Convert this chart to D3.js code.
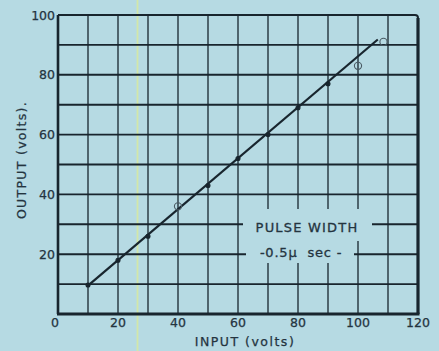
<!DOCTYPE html>
<html>
<head>
<meta charset="utf-8">
<script src="https://cdn.jsdelivr.net/npm/d3@7"></script>
<style>
  html, body { margin: 0; padding: 0; background: #b6dae3; }
  svg { display: block; }
</style>
</head>
<body>
<svg id="chart" width="439" height="351"></svg>
<script>
// Measured pulse amplifier response
const inputVolts  = [10, 20, 30, 40, 50, 60, 70, 80, 90, 100, 108.5];
const outputVolts = [9.7, 18, 26, 36, 43, 52, 60, 69, 77, 83, 91];
// Points off the fitted line are drawn as open circles
const openPoint   = [false, false, false, true, false, false, false, false, false, true, true];
// Fitted straight line
const fitInput  = [10, 106.6];
const fitOutput = [9.5, 91.8];
const xTicks = [0, 20, 40, 60, 80, 100, 120];
const yTicks = [20, 40, 60, 80, 100];
const gridStep = [10, 20, 30, 40, 50, 60, 70, 80, 90, 100, 110];
const yGrid = [10, 20, 30, 40, 50, 60, 70, 80, 90];

const bg = "#b6dae3";
const ink = "#18252e";
const textInk = "#24343f";

const svg = d3.select("#chart");
const x = d3.scaleLinear().domain([0, 120]).range([58, 418]);
const y = d3.scaleLinear().domain([0, 100]).range([314, 15]);

// faint printing stripe
svg.append("line")
  .attr("x1", 137.5).attr("x2", 137.5).attr("y1", 0).attr("y2", 351)
  .attr("stroke", "#d9eaa0").attr("stroke-width", 1.8).attr("opacity", 0.85);

// grid
const grid = svg.append("g");
grid.selectAll("line.v").data(gridStep).join("line")
  .attr("x1", d => x(d)).attr("x2", d => x(d))
  .attr("y1", y(100)).attr("y2", y(0))
  .attr("stroke", ink).attr("stroke-width", 1.3);
grid.selectAll("line.h").data(yGrid).join("line")
  .attr("x1", x(0)).attr("x2", x(120))
  .attr("y1", d => y(d)).attr("y2", d => y(d))
  .attr("stroke", ink).attr("stroke-width", 1.9);

// knockout behind the note
svg.append("rect").attr("x", 243).attr("y", 209).attr("width", 129).attr("height", 32).attr("fill", bg);
svg.append("rect").attr("x", 246).attr("y", 240).attr("width", 108).attr("height", 23).attr("fill", bg);

const noteStyle = sel => sel
  .attr("font-family", "DejaVu Sans, sans-serif").attr("font-size", 13)
  .attr("fill", textInk).attr("stroke", textInk).attr("stroke-width", 0.3);
svg.append("text").attr("x", 307).attr("y", 232)
  .attr("text-anchor", "middle").attr("letter-spacing", 1.2)
  .call(noteStyle)
  .text("PULSE WIDTH");
svg.append("text").attr("x", 301).attr("y", 257)
  .attr("text-anchor", "middle").attr("letter-spacing", 0.8)
  .attr("xml:space", "preserve")
  .call(noteStyle)
  .text("-0.5\u03bc  sec -");

// frame
const fr = svg.append("g").attr("fill", "none").attr("stroke", ink);
fr.append("path")
  .attr("d", `M${x(0)},${y(0)} L${x(0)},${y(100)}`).attr("stroke-width", 2.6);
fr.append("path")
  .attr("d", `M${x(0)},${y(100)} L${x(120) - 3},${y(100)} Q${x(120)},${y(100)} ${x(120)},${y(100) + 3}`)
  .attr("stroke-width", 2);
fr.append("path")
  .attr("d", `M${x(120)},${y(100) + 3} L${x(120)},${y(0)}`).attr("stroke-width", 3.2);
fr.append("path")
  .attr("d", `M${x(0) - 1},${y(0)} L${x(120) + 1.5},${y(0)}`).attr("stroke-width", 3.2);

// fitted line
svg.append("line")
  .attr("x1", x(fitInput[0])).attr("y1", y(fitOutput[0]))
  .attr("x2", x(fitInput[1])).attr("y2", y(fitOutput[1]))
  .attr("stroke", ink).attr("stroke-width", 2.2);

// measured points
const pts = inputVolts.map((v, i) => ({ x: v, y: outputVolts[i], open: openPoint[i] }));
svg.selectAll("circle.pt").data(pts).join("circle")
  .attr("cx", d => x(d.x)).attr("cy", d => y(d.y))
  .attr("r", d => d.open ? 3.6 : 2)
  .attr("fill", d => d.open ? "none" : ink)
  .attr("stroke", d => d.open ? "#4a5a63" : ink)
  .attr("stroke-width", 1.1);

// tick labels
const tickFont = "DejaVu Sans, sans-serif";
const tickStyle = sel => sel
  .attr("font-family", tickFont).attr("font-size", 12.5)
  .attr("fill", textInk).attr("stroke", textInk).attr("stroke-width", 0.25);
svg.selectAll("text.yt").data(yTicks).join("text")
  .attr("x", 55).attr("y", d => y(d) + 4.5)
  .attr("text-anchor", "end")
  .call(tickStyle)
  .text(d => d);
svg.selectAll("text.xt").data(xTicks).join("text")
  .attr("x", d => d === 0 ? 55 : x(d)).attr("y", 327)
  .attr("text-anchor", "middle")
  .call(tickStyle)
  .text(d => d);

// axis titles
svg.append("text").attr("x", 245).attr("y", 346)
  .attr("text-anchor", "middle").attr("letter-spacing", 1.5)
  .call(tickStyle).attr("font-size", 12.5)
  .text("INPUT (volts)");
svg.append("text")
  .attr("transform", "translate(26,160) rotate(-90)")
  .attr("text-anchor", "middle").attr("letter-spacing", 1.3)
  .call(tickStyle).attr("font-size", 12.5)
  .text("OUTPUT (volts).");
</script>
</body>
</html>
